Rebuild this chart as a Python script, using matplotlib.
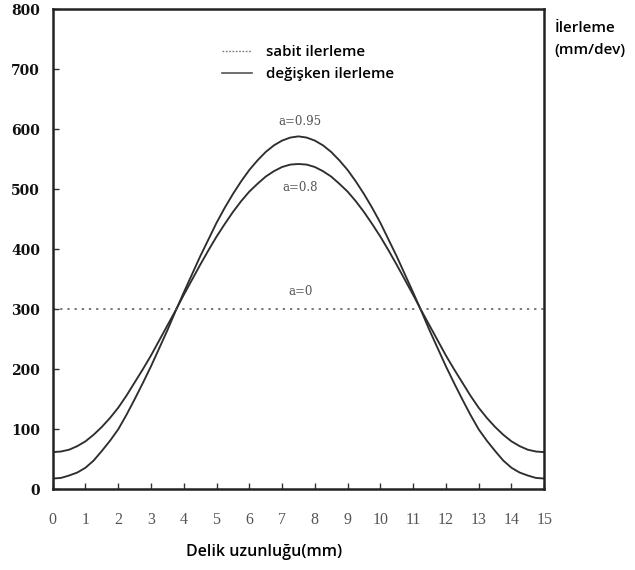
import matplotlib.pyplot as plt
from matplotlib.lines import Line2D

# delik boyunca ilerleme degerleri (mm/dev), 0.25 mm aralikla, 0-7.5 mm arasi
# egriler 7.5 mm'ye gore simetrik
yarim = [i * 0.25 for i in range(31)]
yarim_095 = [18, 19, 23, 28, 36, 48, 64, 81, 100, 124, 150, 177, 205, 235, 265, 297,
             328, 358, 388, 416, 444, 469, 492, 513, 532, 548, 562, 573, 581, 586, 588]
yarim_08 = [62, 63, 66, 72, 80, 91, 104, 119, 136, 156, 178, 200, 223, 248, 273, 298,
            324, 349, 374, 398, 421, 442, 462, 480, 496, 509, 521, 530, 537, 541, 542]
sabit = 300

konum = yarim + [15 - v for v in yarim[-2::-1]]
ilerleme_095 = yarim_095 + yarim_095[-2::-1]
ilerleme_08 = yarim_08 + yarim_08[-2::-1]

x_ticks = list(range(16))
y_ticks = [0, 100, 200, 300, 400, 500, 600, 700, 800]

etiketler = ['a=0.95', 'a=0.8', 'a=0']
etiket_yer = [(7.55, 612), (7.55, 503), (7.55, 330)]

fig = plt.figure(figsize=(6.35, 5.7), dpi=100)
ax = fig.add_axes([0.083, 0.1415, 0.774, 0.8425])

renk = '#2e2e2e'
ax.plot(konum, ilerleme_095, color=renk, lw=1.35)
ax.plot(konum, ilerleme_08, color=renk, lw=1.35)
ax.plot([0, 15], [sabit, sabit], color='#555555', lw=1.1, linestyle=(0, (1.5, 3.2)))

for t, (xx, yy) in zip(etiketler, etiket_yer):
    ax.text(xx, yy, t, ha='center', va='center', family='DejaVu Serif',
            fontsize=8.5, color='#555555')

ax.set_xlim(0, 15)
ax.set_ylim(0, 800)
ax.set_xticks(x_ticks)
ax.set_yticks(y_ticks)
ax.tick_params(axis='x', direction='in', length=4, width=1, pad=16,
               labelsize=11.5, colors='#333333')
ax.tick_params(axis='y', direction='in', length=4, width=1, pad=9,
               labelsize=10, colors='#333333')
for lab in ax.get_xticklabels():
    lab.set_family('Liberation Serif')
    lab.set_color('#555555')
for lab in ax.get_yticklabels():
    lab.set_family('DejaVu Serif')
    lab.set_fontweight('bold')
    lab.set_color('#111111')

for s in ax.spines.values():
    s.set_linewidth(1.8)
    s.set_color('#222222')

# aciklama
el = [Line2D([], [], color='#777777', lw=1.0, linestyle=(0, (1.2, 1.2))),
      Line2D([], [], color='#555555', lw=1.2)]
ax.legend(el, ['sabit ilerleme', 'değişken ilerleme'], frameon=False,
          loc='upper left', bbox_to_anchor=(0.318, 0.953), handlelength=2.0,
          handletextpad=0.9, labelspacing=0.55,
          prop={'family': 'Open Sans', 'weight': 'semibold', 'size': 10.8})

fig.text(0.873, 0.932, 'İlerleme\n(mm/dev)', ha='left', va='center',
         family='Open Sans', fontweight='semibold', fontsize=11, linespacing=1.75)
fig.text(0.416, 0.031, 'Delik uzunluğu(mm)', ha='center', va='center',
         family='Open Sans', fontweight='semibold', fontsize=11.5)

plt.savefig('out.png', dpi=100)
